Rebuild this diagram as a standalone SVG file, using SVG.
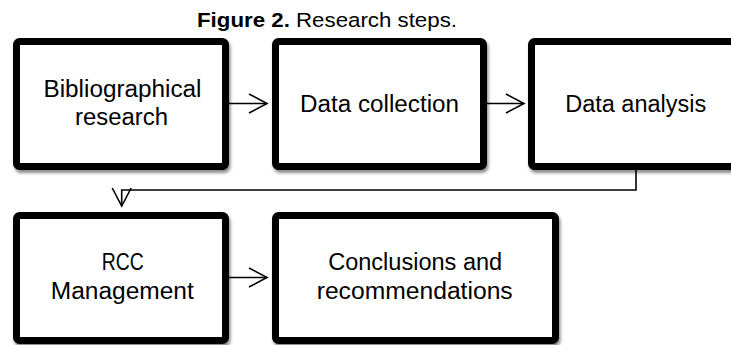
<svg xmlns="http://www.w3.org/2000/svg" width="731" height="345" viewBox="0 0 731 345">
<style>
.box{fill:#fff;stroke:#000;stroke-width:7;filter:url(#sh)}
.t{font-family:"Liberation Sans",Arial,sans-serif;font-size:23px;fill:#000;text-anchor:middle}
.title{font-family:"Liberation Sans",Arial,sans-serif;font-size:20.5px;fill:#000}
.c{fill:none;stroke:#000;stroke-width:1.6}
</style>
<defs>
<filter id="sh" x="-10%" y="-10%" width="125%" height="130%">
<feDropShadow dx="1.5" dy="3" stdDeviation="1.8" flood-color="#000" flood-opacity="0.45"/>
</filter>
<marker id="ah" markerUnits="userSpaceOnUse" markerWidth="22" markerHeight="22" refX="18" refY="9.5" orient="auto" overflow="visible">
<path d="M0,0 L18,9.5 L0,19" fill="none" stroke="#000" stroke-width="1.6"/>
</marker>
</defs>
<text class="title" x="197" y="26.5" textLength="260" lengthAdjust="spacingAndGlyphs"><tspan font-weight="bold">Figure 2.</tspan> Research steps.</text>
<g id="n1">
<rect class="box" x="16.5" y="41.5" width="209" height="125" rx="3"/>
<text class="t" x="122.5" y="97" textLength="158" lengthAdjust="spacingAndGlyphs">Bibliographical</text>
<text class="t" x="121.5" y="125" textLength="93" lengthAdjust="spacingAndGlyphs">research</text>
</g>
<g id="n2">
<rect class="box" x="275.5" y="41.5" width="208" height="125" rx="3"/>
<text class="t" x="379.5" y="111.5" textLength="159" lengthAdjust="spacingAndGlyphs">Data collection</text>
</g>
<g id="n3">
<rect class="box" x="531.5" y="41.5" width="212" height="125" rx="3"/>
<text class="t" x="635.7" y="111.5" textLength="141" lengthAdjust="spacingAndGlyphs">Data analysis</text>
</g>
<g id="n4">
<rect class="box" x="16.5" y="215.5" width="209" height="125" rx="3"/>
<text class="t" x="122.8" y="270" textLength="42" lengthAdjust="spacingAndGlyphs">RCC</text>
<text class="t" x="122.3" y="299" textLength="143" lengthAdjust="spacingAndGlyphs">Management</text>
</g>
<g id="n5">
<rect class="box" x="275.5" y="215.5" width="280" height="125" rx="3"/>
<text class="t" x="415.2" y="270" textLength="174" lengthAdjust="spacingAndGlyphs">Conclusions and</text>
<text class="t" x="414.7" y="299" textLength="196" lengthAdjust="spacingAndGlyphs">recommendations</text>
</g>
<g id="connectors">
<path class="c" d="M229,103.5 H267" marker-end="url(#ah)"/>
<path class="c" d="M487,103.5 H524" marker-end="url(#ah)"/>
<path class="c" d="M229,277.5 H267" marker-end="url(#ah)"/>
<path class="c" d="M636,170 V190 H121.7 V206" marker-end="url(#ah)"/>
</g>
</svg>
